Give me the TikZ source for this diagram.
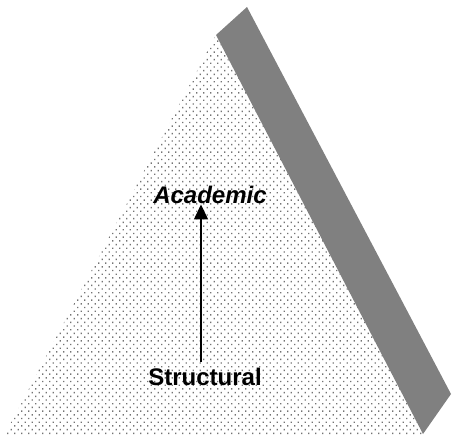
\documentclass[tikz,border=0pt]{standalone}
\usepackage{fontspec}
\setmainfont{Liberation Sans}
\usetikzlibrary{patterns,arrows.meta}

% staggered grid of small grey dots
\pgfdeclarepatternformonly{stipple}{\pgfqpoint{-1pt}{-1pt}}{\pgfqpoint{8pt}{8pt}}{\pgfqpoint{7pt}{7.4pt}}{%
  \pgfpathrectangle{\pgfqpoint{0pt}{0pt}}{\pgfqpoint{1.4pt}{1.4pt}}%
  \pgfpathrectangle{\pgfqpoint{3.5pt}{3.7pt}}{\pgfqpoint{1.4pt}{1.4pt}}%
  \pgfusepath{fill}%
}

\tikzset{
  face/.style={pattern=stipple, pattern color=black!55},
  side/.style={fill=black!50, draw=none},
  label/.style={font=\bfseries\fontsize{24}{28}\selectfont, inner sep=1pt, anchor=base},
  link/.style={line width=1.4pt, -{Triangle[length=15pt,width=14pt]}}
}

\begin{document}
\begin{tikzpicture}[x=1pt,y=-1pt]
  \useasboundingbox (0,0) rectangle (452,434);
  % front face of the pyramid
  \fill[face] (216,35) -- (5,434) -- (424,434) -- cycle;
  % shaded side face
  \fill[side] (216,35) -- (247,7) -- (451,394) -- (423,434) -- cycle;

  \node[label] (structural) at (205,385) {Structural};
  \node[label, font=\bfseries\itshape\fontsize{24}{28}\selectfont] (academic) at (210,203) {Academic};

  \draw[link] (structural.north -| 201,0) ++(0,-4) coordinate (s0) (s0) -- (academic.south -| s0);
\end{tikzpicture}
\end{document}
